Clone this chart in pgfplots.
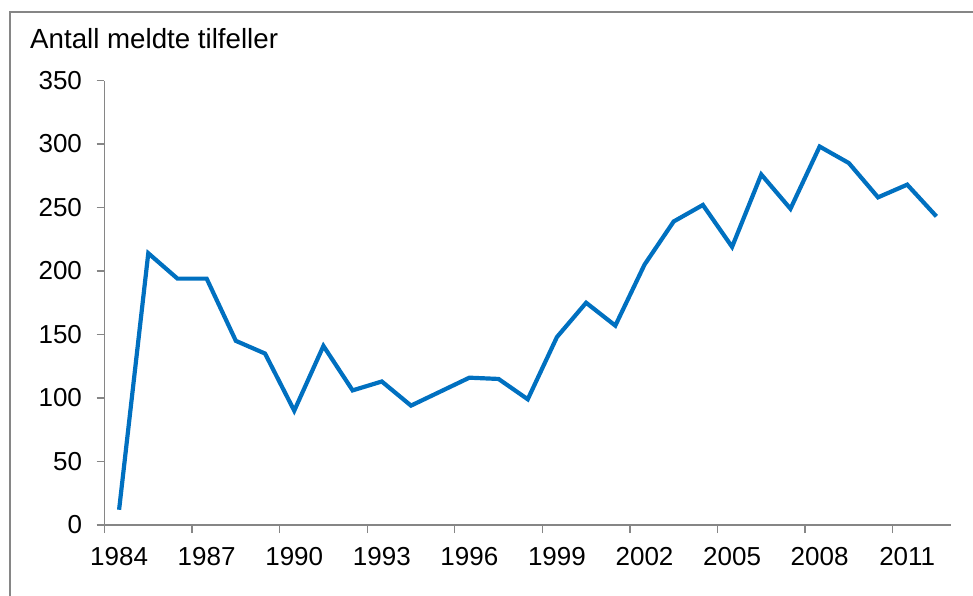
\documentclass[border=0pt]{standalone}
\usepackage{pgfplots}
\pgfplotsset{compat=1.18}
\usepackage{fontspec}
\setmainfont{Liberation Sans}
\definecolor{lineblue}{HTML}{0070C0}
\definecolor{axgray}{HTML}{868686}
\begin{document}
\begin{tikzpicture}
\path[use as bounding box] (-104.5pt,-70pt) rectangle (868.5pt,525pt);
\begin{axis}[
  scale only axis,
  width=846.5pt, height=444.5pt,
  xmin=-0.5, xmax=28.5, ymin=0, ymax=350,
  axis x line=bottom, axis y line=left,
  axis line style={draw=axgray, line width=1.5pt, -},
  tick style={draw=axgray, line width=1.2pt},
  tick align=outside,
  major tick length=8pt,
  ytick={0,50,...,350},
  xtick={-0.5,2.5,...,26.5},
  xticklabels={1984,1987,1990,1993,1996,1999,2002,2005,2008,2011},
  xticklabel style={xshift=14.6pt, yshift=-11pt, font=\fontsize{26}{30}\selectfont},
  yticklabel style={xshift=-11pt, font=\fontsize{26}{30}\selectfont},
  /pgf/number format/assume math mode=true,
  ylabel={Antall meldte tilfeller},
  ylabel style={rotate=-90, anchor=base west, at={(axis description cs:-0.088,1.0709)}, font=\fontsize{27.7}{32}\selectfont, inner sep=0pt},
  clip=false,
]
\addplot[color=lineblue, line width=4.2pt] coordinates {
(0,12) (1,214) (2,194) (3,194) (4,145) (5,135) (6,90) (7,141) (8,106) (9,113)
(10,94) (11,105) (12,116) (13,115) (14,99) (15,148) (16,175) (17,157) (18,205) (19,239)
(20,252) (21,219) (22,276) (23,249) (24,298) (25,285) (26,258) (27,268) (28,243)
};
\end{axis}
\draw[axgray, line width=1.5pt] (-94.5pt,-80pt) -- (-94.5pt,513pt) -- (880pt,513pt);
\end{tikzpicture}
\end{document}
